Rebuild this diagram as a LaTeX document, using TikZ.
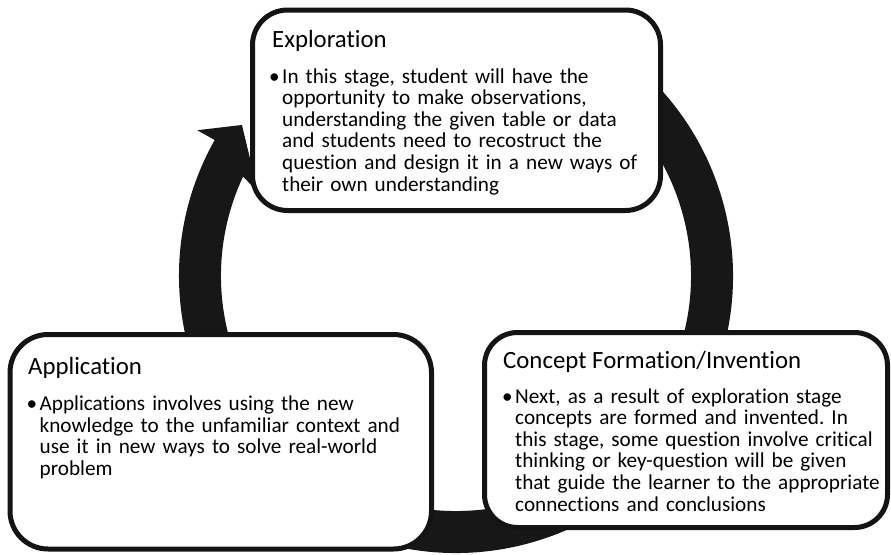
\documentclass[tikz,border=0pt]{standalone}
\usepackage{fontspec}
\setmainfont{Carlito}[Ligatures=NoCommon]
\usetikzlibrary{calc}
\frenchspacing
\begin{document}
\begin{tikzpicture}[x=1pt,y=-1pt,
  stagebox/.style={draw=black!92,line width=5pt,fill=white,rounded corners=35pt,inner sep=0pt},
  stagetitle/.style={anchor=base west,inner sep=0pt,font=\fontsize{24.8}{29}\selectfont},
  stagebody/.style={anchor=base west,inner sep=0pt,text width=400pt,align=left,font=\fontsize{21.2}{21.6}\selectfont},
  ringfill/.style={fill=black!91,draw=none}]
\useasboundingbox (0,0) rectangle (891,554);
% circular arrow
\coordinate (c) at (456,276);
\fill[ringfill] ($(c)+(-60:277)$) arc[start angle=-60,end angle=209.4,radius=277]
  -- ($(c)+(209.4:297)$) coordinate (wingout)
  -- ($(c)+(215.2:262)$) coordinate (tip)
  -- ($(c)+(203:215)$) coordinate (wingin)
  -- ($(c)+(205:235)$) arc[start angle=205,end angle=-60,radius=235] -- cycle;
% boxes
\node[stagebox,minimum width=408pt,minimum height=200.5pt] (expl) at (456.5,110.25) {};
\node[stagebox,minimum width=421.5pt,minimum height=214.5pt,rounded corners=38pt] (appl) at (220.75,441.75) {};
\node[stagebox,minimum width=403pt,minimum height=195pt,rounded corners=33pt] (conc) at (686,430) {};
% texts
\newcommand{\bul}{\llap{\textbullet\hspace{2.5pt}}}
\node[stagetitle] (explt) at (272,47) {Exploration};
\node[stagebody] (explb) at (282,83) {\bul In this stage, student will have the\\
opportunity to make observations,\\
understanding the given table or data\\
and students need to recostruct the\\
question and design it in a new ways of\\
their own understanding};
\node[stagetitle] (applt) at (28,374) {Application};
\node[stagebody] (applb) at (39.5,410.5) {\bul Applications involves using the new\\
knowledge to the unfamiliar context and\\
use it in new ways to solve real-world\\
problem};
\node[stagetitle] (conct) at (503,368) {Concept Formation/Invention};
\node[stagebody] (concb) at (515,403) {\bul Next, as a result of exploration stage\\
concepts are formed and invented. In\\
this stage, some question involve critical\\
thinking or key-question will be given\\
that guide the learner to the appropriate\\
connections and conclusions};
\end{tikzpicture}
\end{document}
